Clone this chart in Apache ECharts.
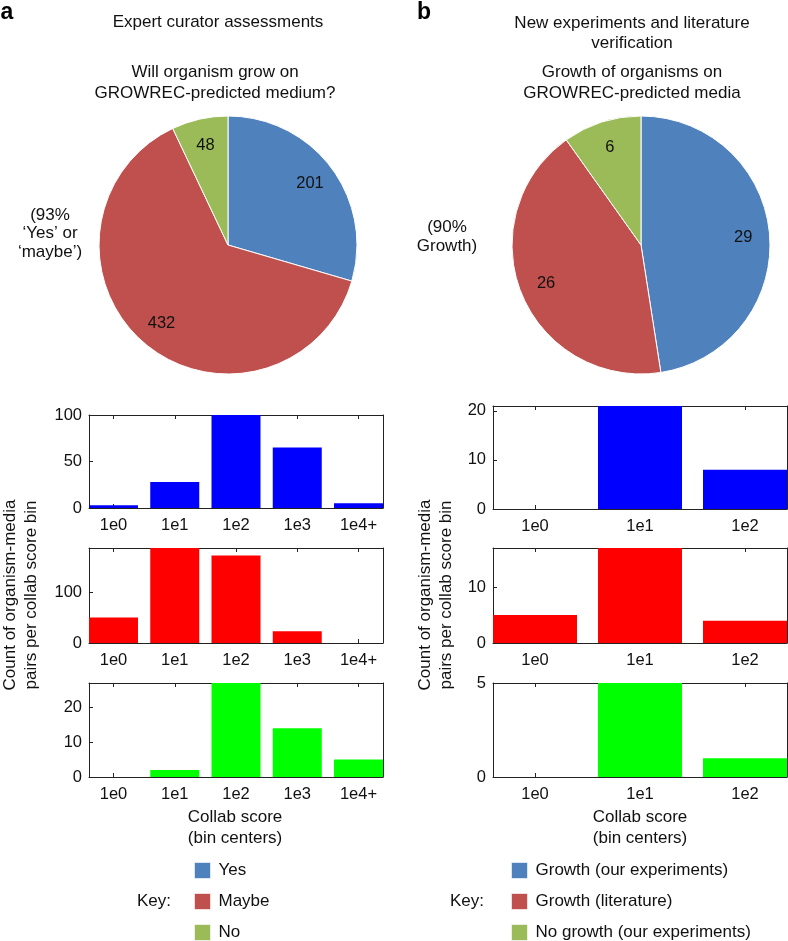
<!DOCTYPE html>
<html><head><meta charset="utf-8">
<script src="https://cdn.jsdelivr.net/npm/echarts@6/dist/echarts.min.js"></script>
<style>html,body{margin:0;padding:0;background:#fff}#c{width:788px;height:941px}</style>
</head><body><div id="c"></div><script>
// ---- data ----
const pieACats = ['Yes', 'Maybe', 'No'];
const pieAValues = [201, 432, 48];
const pieBCats = ['Growth (our experiments)', 'Growth (literature)', 'No growth (our experiments)'];
const pieBValues = [29, 26, 6];
const binsA = ['1e0', '1e1', '1e2', '1e3', '1e4+'];
const binsB = ['1e0', '1e1', '1e2'];
const aYes = [3, 28, 100, 65, 5];
const aMaybe = [50, 187, 172, 23, 0];
const aNo = [0, 2, 27, 14, 5];
const bExp = [0, 21, 8];
const bLit = [5, 17, 4];
const bNo = [0, 5, 1];
const aYTicks = [[0, 50, 100], [0, 100], [0, 10, 20]];
const bYTicks = [[0, 10, 20], [0, 10], [0, 5]];

const FONT = "'Liberation Sans', Arial, Helvetica, sans-serif";
const pieColors = ['#4F81BD', '#C0504D', '#9BBB59'];
const barColors = ['#0000FF', '#FF0000', '#00FF00'];
const AXC = '#222';

const grids = [], xAxes = [], yAxes = [], series = [];
function addPanel(rect, bins, vals, ticks, color) {
  const gi = grids.length;
  grids.push(rect);
  const pos = bins.map((b, i) => i + 1);
  const xBase = { type: 'value', gridIndex: gi, min: 0.6, max: bins.length + 0.4,
    splitLine: { show: false }, axisLine: { onZero: false, lineStyle: { color: AXC, width: 1 } } };
  xAxes.push(Object.assign({}, xBase, { position: 'bottom',
    axisTick: { inside: true, length: 4, customValues: pos, lineStyle: { color: AXC } },
    axisLabel: { customValues: pos, margin: 9, fontSize: 16.5, color: '#111', fontFamily: FONT,
      formatter: v => bins[Math.round(v) - 1] } }));
  xAxes.push(Object.assign({}, xBase, { position: 'top',
    axisTick: { inside: true, length: 4, customValues: pos, lineStyle: { color: AXC } },
    axisLabel: { show: false } }));
  const yBase = { type: 'value', gridIndex: gi, min: 0, max: 'dataMax',
    splitLine: { show: false }, axisLine: { show: true, onZero: false, lineStyle: { color: AXC, width: 1 } } };
  yAxes.push(Object.assign({}, yBase, { position: 'left',
    axisTick: { show: true, inside: true, length: 4, customValues: ticks, lineStyle: { color: AXC } },
    axisLabel: { customValues: ticks, margin: 7, fontSize: 16.5, color: '#111', fontFamily: FONT } }));
  yAxes.push(Object.assign({}, yBase, { position: 'right',
    axisTick: { show: true, inside: true, length: 4, customValues: ticks, lineStyle: { color: AXC } },
    axisLabel: { show: false } }));
  series.push({ type: 'bar', xAxisIndex: 2 * gi, yAxisIndex: 2 * gi, barWidth: '80%',
    clip: true, silent: true,
    itemStyle: { color: color },
    data: vals.map((v, i) => [i + 1, v]) });
}
addPanel({ left: 89, top: 415, width: 294, height: 93 }, binsA, aYes, aYTicks[0], barColors[0]);
addPanel({ left: 89, top: 548, width: 294, height: 95 }, binsA, aMaybe, aYTicks[1], barColors[1]);
addPanel({ left: 89, top: 683, width: 294, height: 94 }, binsA, aNo, aYTicks[2], barColors[2]);
addPanel({ left: 493, top: 406, width: 294, height: 103 }, binsB, bExp, bYTicks[0], barColors[0]);
addPanel({ left: 493, top: 548, width: 294, height: 95 }, binsB, bLit, bYTicks[1], barColors[1]);
addPanel({ left: 493, top: 683, width: 294, height: 94 }, binsB, bNo, bYTicks[2], barColors[2]);

function pieData(cats, vals) {
  return cats.map((c, i) => ({ name: c, value: vals[i], itemStyle: { color: pieColors[i] } }));
}
function addPie(center, cats, vals) {
  series.push({ type: 'pie', center: center, radius: [0, 129], startAngle: 90, clockwise: true,
    silent: true, animation: false,
    itemStyle: { borderColor: '#fff', borderWidth: 1 },
    label: { show: false }, labelLine: { show: false },
    data: pieData(cats, vals) });
  // transparent overlay ring used only to place the value labels further out
  series.push({ type: 'pie', center: center, radius: [70, 129], startAngle: 90, clockwise: true,
    silent: true, animation: false,
    itemStyle: { color: 'rgba(0,0,0,0)', borderWidth: 0 },
    label: { show: true, position: 'inside', formatter: '{c}', fontSize: 16.5, color: '#111', fontFamily: FONT },
    labelLine: { show: false },
    data: cats.map((c, i) => ({ name: c, value: vals[i], itemStyle: { color: 'rgba(0,0,0,0)' } })) });
}
addPie([228, 245], pieACats, pieAValues);
addPie([641, 245], pieBCats, pieBValues);

function txt(x, y, text, opts) {
  return Object.assign({ type: 'text', x: x, y: y, silent: true,
    style: Object.assign({ text: text, fill: '#111', fontSize: 17, fontFamily: FONT,
      textAlign: 'center', textVerticalAlign: 'middle', align: 'center', verticalAlign: 'middle',
      lineHeight: 21 }, (opts && opts.style) || {}) }, (opts && opts.el) || {});
}
const graphics = [
  txt(7, 13, 'a', { style: { fontSize: 23, fontWeight: 'bold', fill: '#000' } }),
  txt(424, 13, 'b', { style: { fontSize: 23, fontWeight: 'bold', fill: '#000' } }),
  txt(218, 22, 'Expert curator assessments'),
  txt(215, 82.5, 'Will organism grow on\nGROWREC-predicted medium?'),
  txt(50, 233.5, '(93%\n\u2018Yes\u2019 or\n\u2018maybe\u2019)', { style: { lineHeight: 18.5 } }),
  txt(632, 33, 'New experiments and literature\nverification', { style: { lineHeight: 20 } }),
  txt(632, 82.5, 'Growth of organisms on\nGROWREC-predicted media'),
  txt(447, 237, '(90%\nGrowth)', { style: { lineHeight: 18.5 } }),
  txt(21, 595, 'Count of organism-media\npairs per collab score bin', { el: { rotation: Math.PI / 2 }, style: { lineHeight: 21 } }),
  txt(436, 595, 'Count of organism-media\npairs per collab score bin', { el: { rotation: Math.PI / 2 }, style: { lineHeight: 21 } }),
  txt(235, 827.5, 'Collab score\n(bin centers)'),
  txt(640, 827.5, 'Collab score\n(bin centers)'),
  txt(154, 901, 'Key:'),
  txt(467, 901, 'Key:')
];

const legendBase = { orient: 'vertical', itemWidth: 16, itemHeight: 16, itemGap: 14, icon: 'rect',
  padding: 0, selectedMode: false,
  itemStyle: { borderColor: 'rgba(255,255,255,0.6)', borderWidth: 1 },
  textStyle: { fontSize: 17, fontFamily: FONT, color: '#111', lineHeight: 16, padding: [0, 0, 0, 3] } };
const option = {
  animation: false,
  backgroundColor: '#fff',
  textStyle: { fontFamily: FONT },
  grid: grids,
  xAxis: xAxes,
  yAxis: yAxes,
  legend: [
    Object.assign({}, legendBase, { left: 194, top: 862, data: pieACats }),
    Object.assign({}, legendBase, { left: 511, top: 862, data: pieBCats })
  ],
  graphic: { elements: graphics },
  series: series
};
const chart = echarts.init(document.getElementById('c'), null, { renderer: 'canvas' });
chart.setOption(option);
</script></body></html>
